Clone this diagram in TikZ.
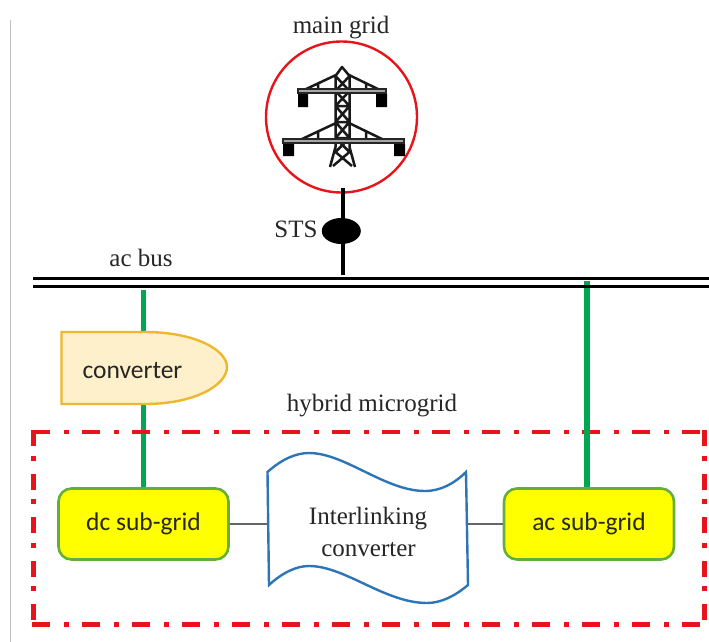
\documentclass[tikz,border=0pt]{standalone}
\usepackage{fontspec}
\setmainfont{Liberation Serif}
\newfontfamily\calib{Carlito}
\usetikzlibrary{shapes.geometric}
\definecolor{gline}{HTML}{00A651}
\definecolor{rline}{HTML}{E8141C}
\definecolor{subedge}{HTML}{63AE3C}
\definecolor{subfill}{HTML}{FFFF00}
\definecolor{convfill}{HTML}{FFF0CC}
\definecolor{convedge}{HTML}{EFB72E}
\definecolor{waveedge}{HTML}{2E75B6}
\tikzset{
  serlabel/.style={font=\fontsize{25}{28}\selectfont,text=black!85,inner sep=0pt},
  wavelabel/.style={font=\fontsize{25}{28}\selectfont,text=black!85,inner sep=0pt},
  callabel/.style={font=\calib\fontsize{25.5}{28}\selectfont,text=black!85,inner sep=0pt},
  subgrid/.style={draw=subedge,fill=subfill,line width=2.6pt,rounded corners=13pt,minimum width=170pt,minimum height=71pt,inner sep=0pt,font=\calib\fontsize{25.5}{28}\selectfont,text=black!85},
  busline/.style={draw=black,line width=3.4pt},
  greenline/.style={draw=gline,line width=5.5pt},
  thinlink/.style={draw=black!60,line width=1.8pt},
  blackline/.style={draw=black,line width=4.2pt},
  towerline/.style={draw=black!90,line width=2.5pt},
  hybridh/.style={draw=rline,line width=4.2pt,dash pattern=on 18pt off 14pt on 5pt off 13pt},
  hybridv/.style={draw=rline,line width=4.2pt,dash pattern=on 16pt off 9.5pt on 5pt off 13.1pt}
}
\begin{document}
\begin{tikzpicture}[x=1pt,y=-1pt]
\useasboundingbox (0,0) rectangle (709,642);
\clip (0,0) rectangle (709,642);
% page edge
\coordinate (edgeT) at (10.5,20);
\coordinate (edgeB) at (10.5,642);
\draw[black!25,line width=1.4pt] (edgeT) -- (edgeB);
% coordinates
\coordinate (busTL) at (33,278.5);
\coordinate (busTR) at (709,278.5);
\coordinate (busBL) at (33,286.5);
\coordinate (busBR) at (709,286.5);
\coordinate (stemTop) at (342.7,188);
\coordinate (stemBot) at (342.7,275);
\coordinate (leftTap) at (143.5,290);
\coordinate (rightTap) at (587,281);
% nodes
\node[subgrid] (dc) at (143.5,524) {dc sub-grid};
\draw[greenline] (leftTap) -- (dc.north -| leftTap);
% hybrid box
\coordinate (hbTL) at (32,432);
\coordinate (hbTR) at (706,432);
\coordinate (hbBL) at (32,624.5);
\coordinate (hbBR) at (706,624.5);
\coordinate (hbVL) at (33.5,430);
\coordinate (hbVLb) at (33.5,626);
\coordinate (hbVR) at (704.5,430);
\coordinate (hbVRb) at (704.5,626);
\draw[hybridh] (hbTL) -- (hbTR);
\draw[hybridh] (hbBL) -- (hbBR);
\draw[hybridv] (hbVL) -- (hbVLb);
\draw[hybridv] (hbVR) -- (hbVRb);
\node[subgrid] (ac) at (589,524) {ac sub-grid};
\draw[greenline] (rightTap) -- (ac.north -| rightTap);
% bus
\draw[busline] (busTL) -- (busTR);
\draw[busline] (busBL) -- (busBR);
% main grid
\node[circle,draw=rline,fill=white,line width=2.4pt,minimum size=151pt,inner sep=0pt] (gridc) at (341.5,117) {};
\draw[blackline] (stemTop) -- (stemBot);
\node[ellipse,fill=black,minimum width=39pt,minimum height=26pt,inner sep=0pt] (sts) at (341.3,231) {};
% tower
\draw[towerline,line join=round]
  (335.5,76) -- (342,67) -- (349.5,76)
  (335.5,76) -- (335.5,147) -- (330,167)
  (349.5,76) -- (349.5,147) -- (355,167)
  (335.5,76) -- (349.5,91) -- (335.5,106) -- (349.5,122) -- (335.5,138) -- (349.5,152) -- (333,166)
  (349.5,76) -- (335.5,91) -- (349.5,106) -- (335.5,122) -- (349.5,138) -- (335.5,152) -- (352,166)
  (335.5,91) -- (349.5,91) (335.5,106) -- (349.5,106) (335.5,122) -- (349.5,122) (335.5,138) -- (349.5,138)
  (304,90) -- (336,75) (380,90) -- (349,75)
  (318,90) -- (318,83) (366,90) -- (366,83)
  (302,139) -- (336,123) (382,139) -- (349,123)
  (318,139) -- (318,132) (366,139) -- (366,132);
\draw[line width=5.5pt,black!85] (297,91) -- (387,91);
\draw[line width=5.5pt,black!85] (282,141) -- (405,141);
\draw[line width=1.5pt,black!35] (299,91) -- (385,91);
\draw[line width=1.5pt,black!35] (284,141) -- (403,141);
\fill[black] (298,94) rectangle (308,107) (376,94) rectangle (387,107)
  (283,144) rectangle (294,156) (394,144) rectangle (405,156);
% converter
\coordinate (convTL) at (61.5,332);
\coordinate (convBL) at (61.5,404);
\draw[convedge,fill=convfill,line width=2.4pt,line join=miter]
  (convTL) -- (145,332) .. controls (195,332) and (227,350) .. (227,367)
  .. controls (227,385) and (195,404) .. (145,404) -- (convBL) -- cycle;
\node[callabel] (convlabel) at (132.5,370.5) {converter};
% wave
\coordinate (waveTL) at (267.5,472);
\coordinate (waveTR) at (466,472);
\coordinate (waveBR) at (468,585);
\coordinate (waveBL) at (269,585);
\coordinate (waveWest) at (268,524);
\coordinate (waveEast) at (467,524);
\draw[waveedge,fill=white,line width=2.4pt,line join=miter]
  (waveTL) .. controls (282,459) and (296,453) .. (309,453)
  .. controls (345,453) and (385,491) .. (425,491)
  .. controls (441,491) and (455,483) .. (waveTR)
  -- (waveBR)
  .. controls (455,596) and (441,603) .. (427,603)
  .. controls (385,603) and (345,566) .. (309,566)
  .. controls (296,566) and (282,573) .. (waveBL) -- cycle;
\node[wavelabel] (il1) at (368,518.5) {Interlinking};
\node[wavelabel] (il2) at (368.5,550) {converter};
\draw[thinlink] (dc.east) -- (waveWest);
\draw[thinlink] (waveEast) -- (ac.west);
% labels
\node[serlabel] (lmain) at (341,28) {main grid};
\node[serlabel] (lsts) at (296,229) {STS};
\node[serlabel] (lbus) at (141,258) {ac bus};
\node[serlabel] (lhyb) at (372,406) {hybrid microgrid};
\end{tikzpicture}
\end{document}
